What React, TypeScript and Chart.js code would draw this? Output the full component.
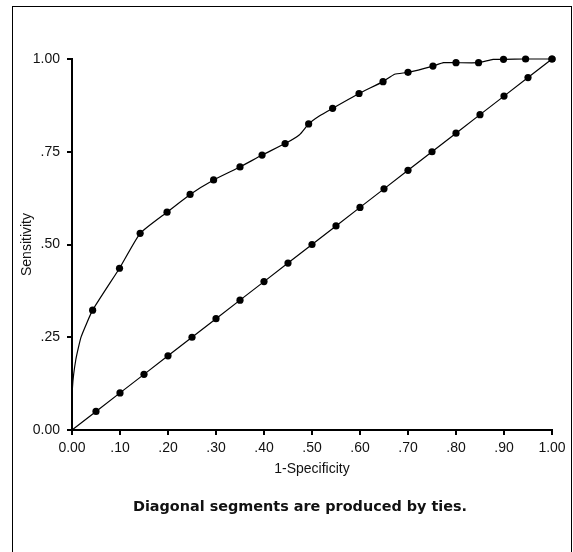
import React, { useEffect, useRef } from 'react';
import { Chart, registerables } from 'chart.js';

Chart.register(...registerables);

const xTickValues = [0, 0.1, 0.2, 0.3, 0.4, 0.5, 0.6, 0.7, 0.8, 0.9, 1.0];
const xTickLabels = ['0.00', '.10', '.20', '.30', '.40', '.50', '.60', '.70', '.80', '.90', '1.00'];
const yTickValues = [0, 0.25, 0.5, 0.75, 1.0];
const yTickLabels = ['0.00', '.25', '.50', '.75', '1.00'];

const xTitle = '1-Specificity';
const yTitle = 'Sensitivity';
const footnote = 'Diagonal segments are produced by ties.';

// ROC curve (points with marker flag)
const rocX = [0, 0.001, 0.008, 0.019, 0.043, 0.099, 0.142, 0.198, 0.246, 0.295, 0.350, 0.396, 0.444, 0.474, 0.493, 0.516, 0.543, 0.598, 0.648, 0.672, 0.700, 0.752, 0.774, 0.800, 0.847, 0.877, 0.899, 0.945, 1.0];
const rocY = [0, 0.115, 0.19, 0.251, 0.323, 0.436, 0.530, 0.587, 0.635, 0.674, 0.709, 0.741, 0.772, 0.796, 0.825, 0.847, 0.867, 0.907, 0.939, 0.959, 0.964, 0.981, 0.990, 0.990, 0.990, 0.999, 0.999, 1.0, 1.0];
const rocMarked = [0, 0, 0, 0, 1, 1, 1, 1, 1, 1, 1, 1, 1, 0, 1, 0, 1, 1, 1, 0, 1, 1, 0, 1, 1, 0, 1, 1, 1];

// Reference diagonal
const refX = [0, 0.05, 0.10, 0.15, 0.20, 0.25, 0.30, 0.35, 0.40, 0.45, 0.50, 0.55, 0.60, 0.65, 0.70, 0.75, 0.80, 0.85, 0.90, 0.95, 1.0];
const refY = [0, 0.05, 0.10, 0.15, 0.20, 0.25, 0.30, 0.35, 0.40, 0.45, 0.50, 0.55, 0.60, 0.65, 0.70, 0.75, 0.80, 0.85, 0.90, 0.95, 1.0];

const FONT = "'Liberation Sans', Arial, sans-serif";

function labelFor(values: number[], labels: string[], v: number) {
  const i = values.findIndex((t) => Math.abs(t - v) < 1e-9);
  return i >= 0 ? labels[i] : '';
}

export default function App() {
  const canvasRef = useRef<HTMLCanvasElement | null>(null);

  useEffect(() => {
    const ctx = canvasRef.current;
    if (!ctx) return;
    const chart = new Chart(ctx, {
      type: 'scatter',
      data: {
        datasets: [
          {
            data: rocX.map((x, i) => ({ x, y: rocY[i] })),
            showLine: true,
            borderColor: '#000',
            borderWidth: 1.2,
            backgroundColor: '#000',
            pointBackgroundColor: '#000',
            pointBorderColor: '#000',
            pointRadius: rocMarked.map((m) => (m ? 3.6 : 0)),
            pointBorderWidth: 0,
            tension: 0.15,
            clip: false as any,
          },
          {
            data: refX.map((x, i) => ({ x, y: refY[i] })),
            showLine: true,
            borderColor: '#000',
            borderWidth: 1.2,
            backgroundColor: '#000',
            pointBackgroundColor: '#000',
            pointBorderColor: '#000',
            pointRadius: refX.map((x) => (x === 0 ? 0 : 3.6)),
            pointBorderWidth: 0,
            tension: 0,
            clip: false as any,
          },
        ],
      },
      options: {
        animation: false,
        responsive: false,
        events: [],
        layout: { padding: { left: 0, top: 59, right: 21, bottom: 0 } },
        plugins: { legend: { display: false }, tooltip: { enabled: false } },
        scales: {
          x: {
            type: 'linear',
            min: 0,
            max: 1,
            afterBuildTicks: (s: any) => {
              s.ticks = xTickValues.map((v) => ({ value: v }));
            },
            afterFit: (s: any) => {
              s.height = 122;
            },
            ticks: {
              callback: (v: any) => labelFor(xTickValues, xTickLabels, Number(v)),
              color: '#111',
              font: { family: FONT, size: 14 },
              padding: 5,
              maxRotation: 0,
              autoSkip: false,
            },
            grid: { display: true, drawOnChartArea: false, drawTicks: true, tickLength: 5, color: '#000', lineWidth: 2 },
            border: { display: true, color: '#000', width: 2 },
            title: {
              display: true,
              text: xTitle,
              color: '#111',
              font: { family: FONT, size: 14 },
              padding: { top: 0, bottom: 74 },
            },
          },
          y: {
            type: 'linear',
            min: 0,
            max: 1,
            afterBuildTicks: (s: any) => {
              s.ticks = yTickValues.map((v) => ({ value: v }));
            },
            afterFit: (s: any) => {
              s.width = 72;
            },
            ticks: {
              callback: (v: any) => labelFor(yTickValues, yTickLabels, Number(v)),
              color: '#111',
              font: { family: FONT, size: 14 },
              padding: 7,
              autoSkip: false,
            },
            grid: { display: true, drawOnChartArea: false, drawTicks: true, tickLength: 5, color: '#000', lineWidth: 2 },
            border: { display: true, color: '#000', width: 2 },
            title: {
              display: true,
              text: yTitle,
              color: '#111',
              font: { family: FONT, size: 14 },
              padding: { top: 19, bottom: 0 },
            },
          },
        },
      } as any,
    });
    return () => chart.destroy();
  }, []);

  return (
    <div style={{ position: 'fixed', left: 0, top: 0, width: 573, height: 552, overflow: 'hidden', background: '#fff' }}>
      <div
        style={{
          position: 'absolute',
          left: 12,
          top: 6,
          width: 560,
          height: 600,
          border: '1px solid #000',
          boxSizing: 'border-box',
        }}
      />
      <canvas ref={canvasRef} width={573} height={552} style={{ position: 'absolute', left: 0, top: 0, width: 573, height: 552 }} />
      <div
        style={{
          position: 'absolute',
          left: 0,
          top: 496,
          width: 600,
          lineHeight: '20px',
          textAlign: 'center',
          fontFamily: "'DejaVu Sans', Verdana, sans-serif",
          fontWeight: 'bold',
          fontSize: 14.4,
          color: '#111',
        }}
      >
        {footnote}
      </div>
    </div>
  );
}
